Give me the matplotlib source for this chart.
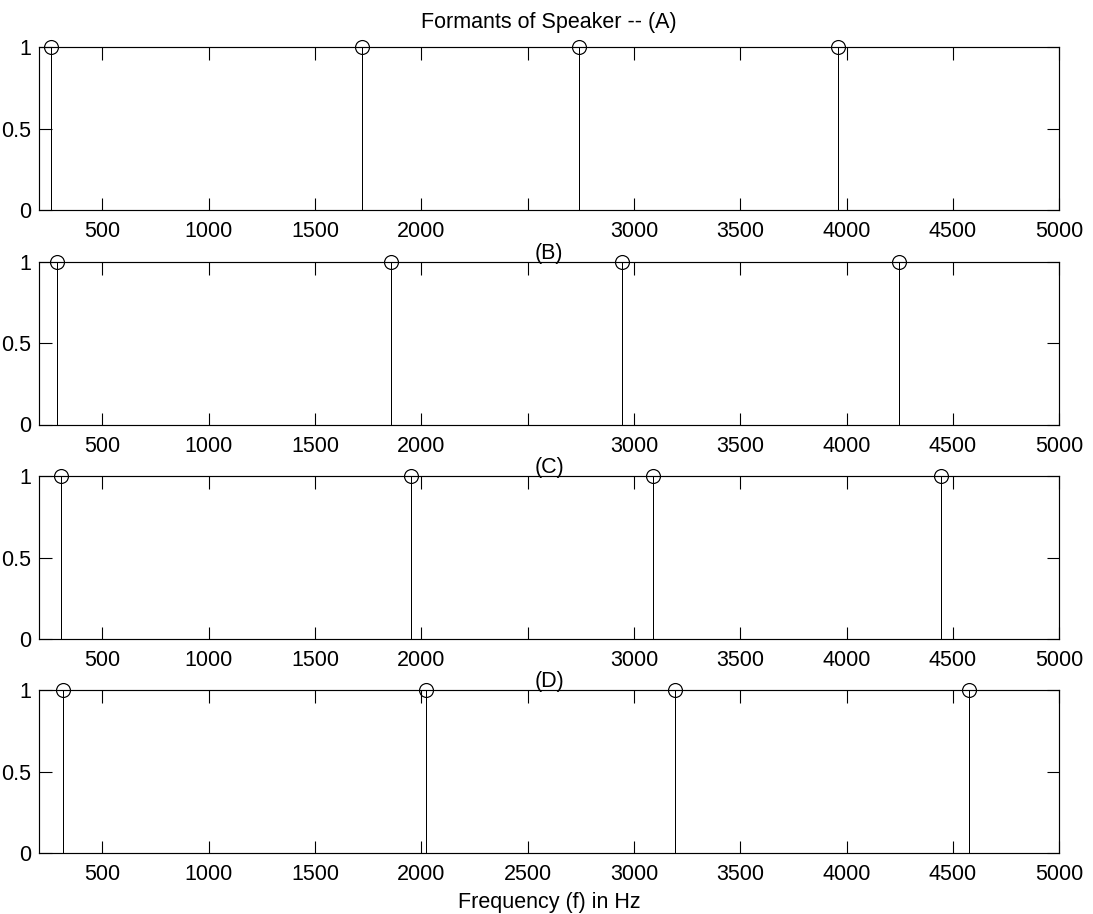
import numpy as np
import matplotlib
matplotlib.use('Agg')
import matplotlib.pyplot as plt

plt.rcParams['font.family'] = ['Liberation Sans', 'DejaVu Sans']

# formant frequencies (Hz)
formants_a = [259, 1722, 2741, 3960]
formants_b = [287, 1856, 2942, 4246]
formants_c = [306, 1953, 3090, 4442]
formants_d = [317, 2021, 3192, 4574]
amplitudes = [1, 1, 1, 1]

titles = ['Formants of Speaker -- (A)', '(B)', '(C)', '(D)']
xticks = [500, 1000, 1500, 2000, 2500, 3000, 3500, 4000, 4500, 5000]
yticks = [0, 0.5, 1]

fig = plt.figure(figsize=(10.93, 9.14), dpi=100)
tops = [47.3, 261.5, 476, 690]
h = 163
left, right = 39.3, 1059.3

for i, (freqs, title) in enumerate(zip([formants_a, formants_b, formants_c, formants_d], titles)):
    ax = fig.add_axes([left / 1093, 1 - (tops[i] + h) / 914, (right - left) / 1093, h / 914])
    ax.vlines(freqs, 0, amplitudes, color='black', linewidth=0.72, antialiased=False)
    ax.plot(freqs, amplitudes, 'o', mfc='none', mec='black', ms=10, mew=0.85, clip_on=False)
    ax.set_xlim(204, 5000)
    ax.set_ylim(0, 1)
    ax.set_xticks(xticks)
    labels = [str(t) for t in xticks]
    if i < 3:
        labels[4] = ''
    ax.set_xticklabels(labels)
    ax.set_yticks(yticks)
    ax.set_yticklabels(['0', '0.5', '1'])
    ax.tick_params(direction='in', length=9, width=0.8, top=True, right=True,
                   labelsize=15.5)
    ax.tick_params(axis='x', pad=8)
    ax.tick_params(axis='y', pad=6)
    for s in ax.spines.values():
        s.set_linewidth(0.85)
    ax.set_title(title, fontsize=15.5, pad=14 if i == 0 else 2)
    if i == 3:
        ax.set_xlabel('Frequency (f) in Hz', fontsize=15.5, labelpad=5)

plt.savefig('out.png', dpi=100)
